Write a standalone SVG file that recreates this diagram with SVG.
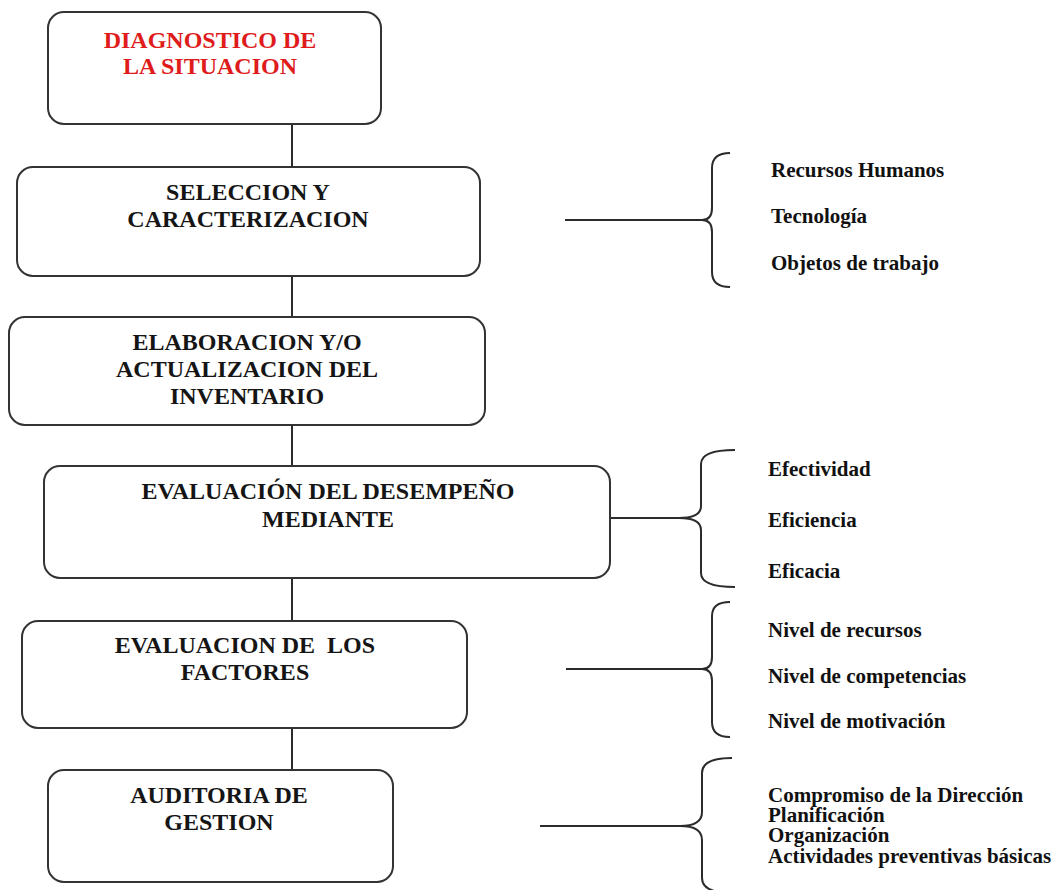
<svg xmlns="http://www.w3.org/2000/svg" width="1060" height="890" viewBox="0 0 1060 890">
  <style>
    .box { fill: #ffffff; stroke: #333333; stroke-width: 2; }
    .link { fill: none; stroke: #2b2b2b; stroke-width: 2; }
    .title { font-family: "Liberation Serif", "Times New Roman", serif; font-weight: bold; font-size: 24px; fill: #151515; text-anchor: middle; }
    .red { fill: #e01b1b; }
    .item { font-family: "Liberation Serif", "Times New Roman", serif; font-weight: bold; font-size: 21px; fill: #111111; }
  </style>
  <rect width="1060" height="890" fill="#ffffff"/>

  <!-- vertical flow and side braces -->
  <g id="connectors">
    <line class="link" x1="292" y1="124" x2="292" y2="167"/>
    <line class="link" x1="292" y1="276" x2="292" y2="317"/>
    <line class="link" x1="292" y1="425" x2="292" y2="466"/>
    <line class="link" x1="292" y1="578" x2="292" y2="621"/>
    <line class="link" x1="292" y1="728" x2="292" y2="770"/>

    <line class="link" x1="565" y1="220" x2="702" y2="220"/>
    <path class="link" d="M730,153 Q712,153 712,168 L712,208 Q712,220 702,220 Q712,220 712,232 L712,272 Q712,287 730,287"/>

    <line class="link" x1="538" y1="518" x2="679" y2="518"/>
    <path class="link" d="M735,450 Q701,450 701,464 L701,506 Q701,518 679,518 Q701,518 701,530 L701,573 Q701,587 735,587"/>

    <line class="link" x1="566" y1="669" x2="702" y2="669"/>
    <path class="link" d="M730,602 Q712,602 712,616 L712,657 Q712,669 702,669 Q712,669 712,681 L712,722 Q712,737 730,737"/>

    <line class="link" x1="540" y1="826" x2="680" y2="826"/>
    <path class="link" d="M732,758 Q702,758 702,773 L702,812 Q702,826 680,826 Q702,826 702,840 L702,878 Q702,893 732,893"/>
  </g>

  <g id="diagnostico">
    <rect class="box" x="48" y="12" width="333" height="112" rx="16"/>
    <text class="title red" x="210" y="48">DIAGNOSTICO DE</text>
    <text class="title red" x="210" y="74">LA SITUACION</text>
  </g>

  <g id="seleccion">
    <rect class="box" x="17" y="167" width="463" height="109" rx="16"/>
    <text class="title" x="248" y="200">SELECCION Y</text>
    <text class="title" x="248" y="227">CARACTERIZACION</text>
  </g>

  <g id="inventario">
    <rect class="box" x="9" y="317" width="476" height="108" rx="16"/>
    <text class="title" x="247" y="350">ELABORACION Y/O</text>
    <text class="title" x="247" y="377">ACTUALIZACION DEL</text>
    <text class="title" x="247" y="404">INVENTARIO</text>
  </g>

  <g id="desempeno">
    <rect class="box" x="44" y="466" width="566" height="112" rx="16"/>
    <text class="title" x="328" y="499">EVALUACIÓN DEL DESEMPEÑO</text>
    <text class="title" x="328" y="527">MEDIANTE</text>
  </g>

  <g id="factores">
    <rect class="box" x="22" y="621" width="445" height="107" rx="16"/>
    <text class="title" x="245" y="653" xml:space="preserve">EVALUACION DE  LOS</text>
    <text class="title" x="245" y="680">FACTORES</text>
  </g>

  <g id="auditoria">
    <rect class="box" x="48" y="770" width="345" height="112" rx="16"/>
    <text class="title" x="219" y="803">AUDITORIA DE</text>
    <text class="title" x="219" y="830">GESTION</text>
  </g>

  <g id="recursos-list">
    <text class="item" x="771" y="177">Recursos Humanos</text>
    <text class="item" x="771" y="223">Tecnología</text>
    <text class="item" x="771" y="270">Objetos de trabajo</text>
  </g>

  <g id="eficacia-list">
    <text class="item" x="768" y="476">Efectividad</text>
    <text class="item" x="768" y="527">Eficiencia</text>
    <text class="item" x="768" y="578">Eficacia</text>
  </g>

  <g id="niveles-list">
    <text class="item" x="768" y="637">Nivel de recursos</text>
    <text class="item" x="768" y="683">Nivel de competencias</text>
    <text class="item" x="768" y="728">Nivel de motivación</text>
  </g>

  <g id="gestion-list">
    <text class="item" x="768" y="802">Compromiso de la Dirección</text>
    <text class="item" x="768" y="822">Planificación</text>
    <text class="item" x="768" y="842">Organización</text>
    <text class="item" x="768" y="863">Actividades preventivas básicas</text>
  </g>
</svg>
